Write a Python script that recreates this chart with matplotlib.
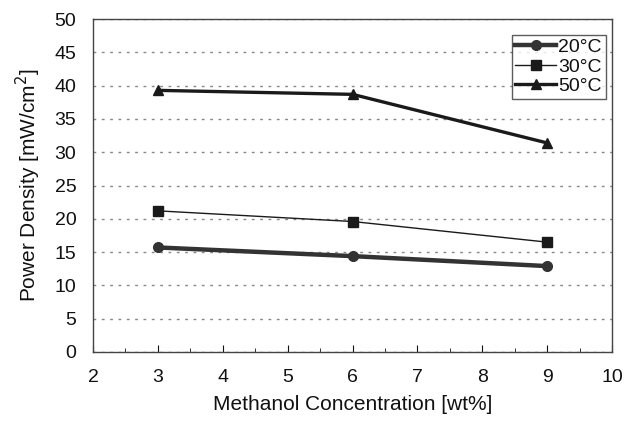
import matplotlib
matplotlib.use("Agg")
import matplotlib.pyplot as plt
from matplotlib.ticker import MultipleLocator

plt.rcParams['font.family'] = ['Liberation Sans', 'DejaVu Sans']

conc = [3, 6, 9]
p20 = [15.7, 14.4, 12.9]
p30 = [21.2, 19.6, 16.5]
p50 = [39.3, 38.7, 31.4]
labels = ['20°C', '30°C', '50°C']

fig = plt.figure(figsize=(6.31, 4.25), dpi=100)
ax = fig.add_axes([0.1474, 0.1718, 0.8226, 0.7832])
c = '#1a1a1a'
ax.plot(conc, p20, color='#333333', lw=3.2, marker='o', ms=7, label=labels[0])
ax.plot(conc, p30, color=c, lw=1.0, marker='s', ms=7, label=labels[1])
ax.plot(conc, p50, color=c, lw=2.4, marker='^', ms=7, label=labels[2])

ax.set_xlim(2, 10)
ax.set_ylim(0, 50)
ax.xaxis.set_major_locator(MultipleLocator(1))
ax.xaxis.set_minor_locator(MultipleLocator(0.5))
ax.yaxis.set_major_locator(MultipleLocator(5))
ax.tick_params(axis='both', which='both', direction='in', labelsize=14, colors='#111111')
ax.tick_params(axis='x', which='major', length=5, pad=12)
ax.tick_params(axis='x', which='minor', length=3)
ax.tick_params(axis='y', which='major', length=0, pad=12)
ax.yaxis.grid(True, linestyle=(0, (2, 4)), color='#888888', lw=1.0)
for s in ax.spines.values():
    s.set_color('#444444')
    s.set_linewidth(1.0)

ax.set_xlabel('Methanol Concentration [wt%]', fontsize=15, labelpad=7, color='#111111')
ax.set_ylabel('Power Density [mW/cm$^2$]', fontsize=15, labelpad=8, color='#111111')

leg = ax.legend(loc='upper right', bbox_to_anchor=(0.995, 0.965), fontsize=14, handlelength=2.1,
                frameon=True, fancybox=False, edgecolor='#333333', borderpad=0.2,
                labelspacing=0.1, handletextpad=0.1, borderaxespad=0.2)
leg.get_frame().set_linewidth(1.0)
for t in leg.get_texts():
    t.set_color('#111111')

fig.savefig('out.png', dpi=100)
